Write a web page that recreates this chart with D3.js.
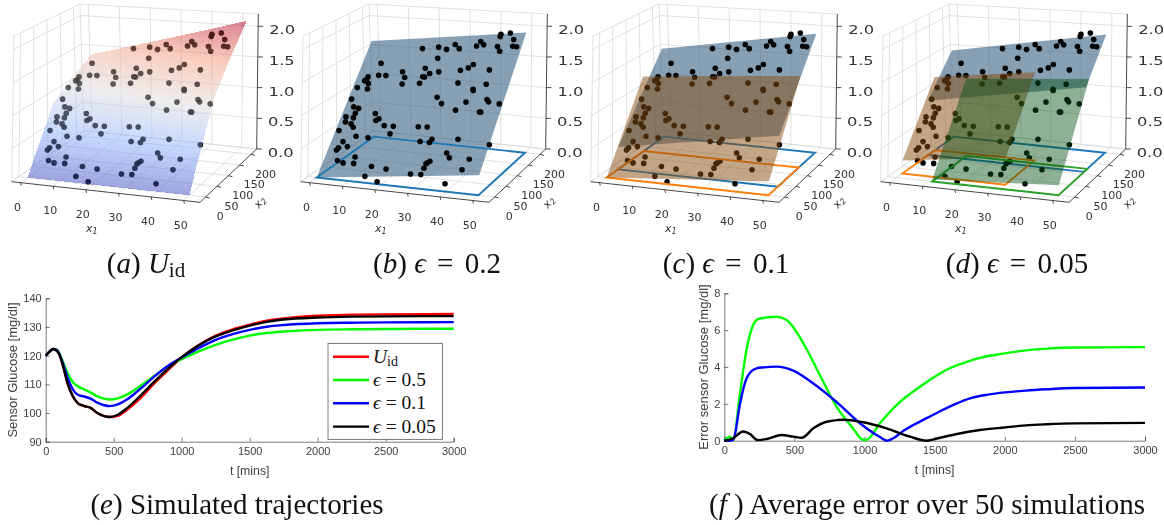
<!DOCTYPE html>
<html>
<head>
<meta charset="utf-8">
<title>Glucose regions</title>
<script src="https://cdn.jsdelivr.net/npm/d3@7"></script>
<style>
html, body { margin: 0; background: #fff; }
svg { display: block; filter: blur(0.4px); }
.cap { font-family: "Liberation Serif", serif; font-size: 29px; fill: #111; text-anchor: middle; }
.t3 { font-family: "DejaVu Sans"; font-size: 11px; fill: #333; }
.ax text { font-family: "Liberation Sans"; font-size: 11px; fill: #404040; }
.ax path, .ax line { stroke: #404040; stroke-width: 0.7; }
.lab { font-family: "Liberation Sans"; font-size: 12.3px; fill: #404040; }
</style>
</head>
<body>
<script>
// scattered samples, same in the four 3d panels
var pointsX1 = [42.7,42.6,45.7,47.5,47.9,49.3,42.6,43.9,36.5,37.9,35.6,28.0,29.9,25.5,22.5,17.1,23.6,36.4,35.1,32.6,42.4,25.5,22.6,20.4,21.3,20.7,20.5,4.5,13.1,14.6,14.6,7.9,5.4,1.8,1.6,1.2,2.9,3.5,-0.3,33.5,42.9,39.2,39.4,28.3,30.5,38.2,44.8,45.6,49.1,35.7,43.5,43.9,-0.2,1.9,3.6,3.4,3.5,0.8,1.5,3.8,5.0,0.9,10.1,11.9,11.3,14.6,17.6,17.4,25.6,28.4,7.1,11.2,3.9,5.8,3.4,2.9,27.8,31.2,30.7,39.3,49.4,36.9,38.2,44.4,9.4,4.3,6.2,9.5,15.2,19.9,43.1,32.5,31.9,31.6,31.3,27.8,31.0,14.2,18.5,39.0];
var pointsX2 = [188,186,188,178,168,166,174,166,184,178,178,188,180,184,190,192,172,154,150,150,142,152,152,162,148,148,138,182,162,152,142,160,162,164,160,158,152,142,148,128,122,116,114,110,100,100,100,96,94,90,86,86,126,110,108,98,90,94,84,78,72,68,94,86,82,74,72,62,70,70,58,54,48,42,38,36,50,54,50,54,50,40,34,34,28,24,22,22,20,18,22,30,28,26,22,14,14,8,2,8];
var pointsZ = [1.93,1.90,1.96,1.89,1.81,1.81,1.77,1.72,1.80,1.77,1.74,1.71,1.67,1.63,1.64,1.59,1.51,1.51,1.46,1.41,1.48,1.35,1.31,1.36,1.26,1.26,1.18,1.32,1.27,1.21,1.13,1.19,1.18,1.13,1.09,1.08,1.06,1.00,0.99,1.27,1.31,1.23,1.22,1.07,1.01,1.07,1.14,1.12,1.11,0.96,0.98,0.98,0.86,0.79,0.78,0.73,0.68,0.67,0.62,0.62,0.59,0.53,0.77,0.72,0.70,0.66,0.67,0.58,0.71,0.72,0.50,0.51,0.43,0.38,0.36,0.33,0.55,0.59,0.55,0.63,0.61,0.45,0.40,0.41,0.28,0.21,0.19,0.20,0.19,0.18,0.28,0.33,0.31,0.30,0.24,0.16,0.17,0.07,0.03,0.09];

// U_id surface: along x2, height and x1 extent at both side edges
var surfX2 = [0, 25, 50, 100, 150, 200];
var surfLeft = [0, 0.27, 0.5, 0.85, 1.1, 1.42];
var surfRight = [0, 0.33, 0.62, 1.2, 1.65, 2.15];
var surfX1Lo = [0, 0, 0, -1, 0, 3];
var surfX1Hi = [50, 50, 50, 50, 51, 53];

// flat regions: x1 range, x2 range, height at the (x1lo,x2lo) (x1hi,x2lo) (x1hi,x2hi) (x1lo,x2hi) corners
var regionB = [[0, 50], [0, 200], [0, 0.3, 1.95, 1.63]];
var regionC1 = [[0, 50], [40, 200], [0.35, 0.78, 1.93, 1.5]];
var regionC2 = [[0, 50], [0, 130], [0, 0.21, 1.45, 1.22]];
var regionD1 = [[0, 50], [110, 200], [0.88, 1.33, 1.92, 1.47]];
var regionD2 = [[0, 32], [20, 135], [0.2, 0.42, 1.42, 1.2]];
var regionD3 = [[11, 50], [0, 124], [0.03, 0.15, 1.42, 1.25]];

var x1Ticks = [0, 10, 20, 30, 40, 50];
var x2Ticks = [0, 50, 100, 150, 200];
var zTicks = [0, 0.5, 1, 1.5, 2];

// lower left panel
var tE = [0,30,55,80,100,130,160,200,240,280,330,380,430,470,530,600,700,800,900,1000,1100,1250,1375,1500,1625,1750,2000,2250,2500,3000];
var glucoseUid = [120,121.5,122.3,121.8,120.5,116,110.5,105.8,103.3,102.5,101.8,100,98.9,98.6,99,101.2,105.4,110.4,115,119.3,122.9,127,129.2,130.8,132.2,133,133.9,134.3,134.4,134.5];
var glucose05 = [120,121.5,122.3,122,120.8,117.5,114,110.7,109.2,108.3,107.2,105.8,105,104.7,105.1,106.5,109.6,113,116.3,118.8,121,123.8,125.6,127,127.9,128.4,129,129.2,129.3,129.4];
var glucose01 = [120,121.5,122.3,122,120.6,116.8,112.5,108.2,106.3,105.8,105,103.6,102.7,102.4,103,104.8,108.6,112.8,116.5,119.4,122,125.5,127.5,129,130.1,130.7,131.3,131.5,131.6,131.7];
var glucose005 = [120,121.5,122.3,121.8,120.5,116,110.5,105.8,103.3,102.5,101.8,100,98.9,98.6,99.4,101.8,106.2,111,115.5,119.5,122.8,126.7,128.8,130.5,131.8,132.6,133.3,133.6,133.7,133.8];

// lower right panel
var tF05 = [0,17,40,64,112,160,207,230,254,373,445,563,682,800,920,990,1015,1110,1230,1395,1500,1585,1700,1823,2000,2150,2300,2500,3000];
var err05 = [0,0.13,0.22,0.05,2.6,5,6.3,6.55,6.63,6.73,6.55,5.3,3.55,1.85,0.65,0.05,0.05,0.95,1.95,2.93,3.47,3.85,4.2,4.5,4.74,4.9,5,5.06,5.08];
var tF01 = [0,40,64,112,140,160,190,230,280,373,492,635,800,967,1110,1162,1205,1280,1348,1450,1538,1650,1752,1880,2000,2150,2300,2500,3000];
var err01 = [0,0,0.05,2,2.95,3.4,3.75,3.93,3.98,4.02,3.8,3.1,2.1,0.95,0.2,0,0.13,0.55,0.85,1.25,1.6,2,2.3,2.5,2.62,2.72,2.79,2.86,2.89];
var tF005 = [0,60,135,183,238,302,409,492,552,635,730,849,991,1157,1324,1443,1538,1650,1823,2000,2150,2300,2500,3000];
var err005 = [0,0.12,0.5,0.36,0.03,0.09,0.31,0.22,0.16,0.67,1.03,1.14,1,0.67,0.22,0,0.16,0.35,0.58,0.72,0.83,0.89,0.94,0.97];

var width = 1164, height = 525;
var svg = d3.select("body").append("svg").attr("width", width).attr("height", height);

// box corners on screen, floor then top, for panel a
var cFloor = [[11.7, 181.7], [200, 202.3], [256.7, 149], [84, 130.7]];
var cTop = [[14, 36], [206, 55.3], [258.3, 14], [80, 4]];
var sx = d3.scaleLinear().domain([-2.7, 55]).range([0, 1]);
var sy = d3.scaleLinear().domain([-25, 225]).range([0, 1]);
var sz = d3.scaleLinear().domain([0, 2.2]).range([0, 1]);

function mix(a, b, t) { return [a[0] + (b[0] - a[0]) * t, a[1] + (b[1] - a[1]) * t]; }
function corner(c, r, s) { return mix(mix(c[0], c[1], r), mix(c[3], c[2], r), s); }
function project(x1, x2, z) {
    var r = sx(x1), s = sy(x2), t = sz(z);
    return mix(corner(cFloor, r, s), corner(cTop, r, s), t);
}
function pathOf(pts) { return d3.line()(pts) + "Z"; }

var cool = d3.scaleLinear().domain([0, 0.54, 1.08, 1.62, 2.15])
    .range(["#3b4cc0", "#8db0fe", "#dddcdc", "#f49a7b", "#b40426"]);

var atX2 = d3.scaleLinear().domain(surfX2);
// u runs 0..1 across the surface, x2 along it
function surfZ(u, x2) {
    var left = atX2.range(surfLeft)(x2), right = atX2.range(surfRight)(x2);
    return left + (right - left) * u;
}
function surfPoint(u, x2) {
    var lo = atX2.range(surfX1Lo)(x2), hi = atX2.range(surfX1Hi)(x2);
    return project(lo + (hi - lo) * u, x2, surfZ(u, x2));
}

function drawBox(g) {
    var grid = g.append("g").attr("fill", "none").attr("stroke", "#d9d9d9").attr("stroke-width", 0.8);
    var x1a = sx.domain()[0], x1b = sx.domain()[1], x2a = sy.domain()[0], x2b = sy.domain()[1], zb = sz.domain()[1];
    function seg(p, q) { grid.append("path").attr("d", d3.line()([project(p[0], p[1], p[2]), project(q[0], q[1], q[2])])); }
    seg([x1a, x2a, 0], [x1a, x2b, 0]);
    seg([x1a, x2b, 0], [x1b, x2b, 0]);
    seg([x1a, x2b, 0], [x1a, x2b, zb]);
    seg([x1a, x2b, zb], [x1b, x2b, zb]);
    seg([x1a, x2a, 0], [x1a, x2a, zb]);
    seg([x1a, x2a, zb], [x1a, x2b, zb]);
    x1Ticks.forEach(function (v) {
        seg([v, x2a, 0], [v, x2b, 0]);
        seg([v, x2b, 0], [v, x2b, zb]);
    });
    x2Ticks.forEach(function (v) {
        seg([x1a, v, 0], [x1b, v, 0]);
        seg([x1a, v, 0], [x1a, v, zb]);
    });
    zTicks.forEach(function (v) {
        seg([x1a, x2a, v], [x1a, x2b, v]);
        seg([x1a, x2b, v], [x1b, x2b, v]);
    });

    var ax = g.append("g").attr("fill", "none").attr("stroke", "#333").attr("stroke-width", 0.9);
    ax.append("path").attr("d", d3.line()([project(x1a, x2a, 0), project(x1b, x2a, 0), project(x1b, x2b, 0)]));
    ax.append("path").attr("d", d3.line()([project(x1b, x2b, 0), project(x1b, x2b, zb)]));

    x1Ticks.forEach(function (v) {
        var p = project(v, x2a, 0);
        ax.append("line").attr("x1", p[0]).attr("y1", p[1]).attr("x2", p[0] + 0.8).attr("y2", p[1] + 3);
        g.append("text").attr("class", "t3").attr("text-anchor", "middle")
            .attr("x", p[0] - 3).attr("y", p[1] + 28).text(v);
    });
    x2Ticks.forEach(function (v) {
        var p = project(x1b, v, 0);
        ax.append("line").attr("x1", p[0]).attr("y1", p[1]).attr("x2", p[0] + 4).attr("y2", p[1] + 1);
        g.append("text").attr("class", "t3").attr("text-anchor", "middle")
            .attr("x", p[0] + 14.5).attr("y", p[1] + 23.5).text(v);
    });
    zTicks.forEach(function (v) {
        var p = project(x1b, x2b, v);
        ax.append("line").attr("x1", p[0]).attr("y1", p[1]).attr("x2", p[0] + 5).attr("y2", p[1]);
        g.append("text").attr("class", "t3").attr("x", p[0] + 11).attr("y", p[1] + 8).style("font-size", "12.5px")
            .attr("textLength", 26).attr("lengthAdjust", "spacingAndGlyphs").text(d3.format(".1f")(v));
    });
    g.append("text").attr("class", "t3").attr("x", 86).attr("y", 232).attr("font-style", "italic").style("font-size", "11px")
        .text("x").append("tspan").attr("dy", 2).style("font-size", "8px").text("1");
    g.append("text").attr("class", "t3").attr("transform", "translate(259,209) rotate(-52)").attr("font-style", "italic").style("font-size", "11px")
        .text("x").append("tspan").attr("dy", 2).style("font-size", "8px").text("2");
}

function drawPoints(g, op) {
    g.append("g").selectAll("circle").data(pointsX1).join("circle")
        .attr("cx", function (d, i) { return project(d, pointsX2[i], pointsZ[i])[0]; })
        .attr("cy", function (d, i) { return project(d, pointsX2[i], pointsZ[i])[1]; })
        .attr("r", 2.8)
        .attr("fill", "#050505")
        .attr("fill-opacity", op);
}

function drawPlane(g, reg, color, op) {
    var x = reg[0], y = reg[1], z = reg[2];
    g.append("path")
        .attr("d", pathOf([project(x[0], y[0], z[0]), project(x[1], y[0], z[1]), project(x[1], y[1], z[2]), project(x[0], y[1], z[3])]))
        .attr("fill", color).attr("fill-opacity", op);
}

function drawRect(g, reg, color) {
    var x = reg[0], y = reg[1];
    g.append("path")
        .attr("d", pathOf([project(x[0], y[0], 0), project(x[1], y[0], 0), project(x[1], y[1], 0), project(x[0], y[1], 0)]))
        .attr("fill", "none").attr("stroke", color).attr("stroke-width", 1.9);
}

var BLUE = "#1f77b4", ORANGE = "#ff7f0e", GREEN = "#2ca02c";
var fillBlue = "rgb(55,97,130)", fillOrange = "rgb(135,75,15)", fillGreen = "rgb(5,80,18)";

// panel a
var pa = svg.append("g");
drawBox(pa);
drawPoints(pa, 1);
var surfG = pa.append("g").attr("shape-rendering", "crispEdges");
d3.range(0, 200, 4).forEach(function (y) {
    d3.range(0, 1, 0.02).forEach(function (u) {
        var u2 = u + 0.02, y2 = y + 4;
        surfG.append("path")
            .attr("d", pathOf([surfPoint(u, y), surfPoint(u2, y), surfPoint(u2, y2), surfPoint(u, y2)]))
            .attr("fill", cool(surfZ(u + 0.01, y + 2))).attr("fill-opacity", 0.5);
    });
});
drawPoints(pa, 0.2);

// panel b
var pb = svg.append("g").attr("transform", "translate(289,0)");
drawBox(pb);
drawPlane(pb, regionB, fillBlue, 0.6);
drawRect(pb, regionB, BLUE);
drawPoints(pb, 1);

// panel c
var pc = svg.append("g").attr("transform", "translate(579,0)");
drawBox(pc);
drawPlane(pc, regionC1, fillBlue, 0.6);
drawRect(pc, regionC1, BLUE);
drawPoints(pc, 1);
drawRect(pc, regionC2, ORANGE);
drawPlane(pc, regionC2, fillOrange, 0.5);

// panel d
var pd = svg.append("g").attr("transform", "translate(869,0)");
drawBox(pd);
drawPlane(pd, regionD1, fillBlue, 0.6);
drawRect(pd, regionD1, BLUE);
drawPoints(pd, 1);
drawRect(pd, regionD2, ORANGE);
drawPlane(pd, regionD2, fillOrange, 0.5);
drawRect(pd, regionD3, GREEN);
drawPlane(pd, regionD3, fillGreen, 0.45);

// captions
function caption(x, y, parts) {
    var t = svg.append("text").attr("class", "cap").attr("x", x).attr("y", y);
    parts.forEach(function (p) {
        var s = t.append("tspan").text(p[0]);
        if (p[1] == "i") s.attr("font-style", "italic");
        if (p[1] == "sub") s.attr("dy", 4).style("font-size", "21px");
        if (p[1] == "gap") s.attr("dx", 4);
    });
}
caption(146, 273, [["(", ""], ["a", "i"], [") ", ""], ["U", "i"], ["id", "sub"]]);
caption(437, 273, [["(", ""], ["b", "i"], [") ", ""], ["\u03f5", "i"], [" =", "gap"], [" 0.2", "gap"]]);
caption(726, 273, [["(", ""], ["c", "i"], [") ", ""], ["\u03f5", "i"], [" =", "gap"], [" 0.1", "gap"]]);
caption(1017, 273, [["(", ""], ["d", "i"], [") ", ""], ["\u03f5", "i"], [" =", "gap"], [" 0.05", "gap"]]);
caption(237, 514, [["(", ""], ["e", "i"], [") Simulated trajectories", ""]]);
caption(927, 514, [["(", ""], ["f", "i"], [" ) Average error over 50 simulations", ""]]);

// 2d panels
function plot2d(x0, x1, y0, y1, yDomain, yTicks, yLabel, yLabelX, yLabelY) {
    var x = d3.scaleLinear().domain([0, 3000]).range([x0, x1]);
    var y = d3.scaleLinear().domain(yDomain).range([y0, y1]);
    svg.append("g").attr("class", "ax").attr("transform", "translate(0," + y0 + ")")
        .call(d3.axisBottom(x).tickValues([0, 500, 1000, 1500, 2000, 2500, 3000]).tickFormat(d3.format("d")).tickSize(-4).tickPadding(6));
    svg.append("g").attr("class", "ax").attr("transform", "translate(" + x0 + ",0)")
        .call(d3.axisLeft(y).tickValues(yTicks).tickFormat(d3.format("d")).tickSize(-4).tickPadding(4));
    svg.append("text").attr("class", "lab").attr("text-anchor", "middle").attr("x", (x0 + x1) / 2).attr("y", y0 + 33).text("t [mins]");
    svg.append("text").attr("class", "lab").attr("text-anchor", "middle").style("font-size", "13px")
        .attr("transform", "translate(" + yLabelX + "," + yLabelY + ") rotate(-90)").text(yLabel);
    return { x: x, y: y };
}
function curveLine(s, ts, vs, color) {
    var line = d3.line().x(function (d, i) { return s.x(ts[i]); }).y(function (d) { return s.y(d); }).curve(d3.curveMonotoneX);
    svg.append("path").attr("d", line(vs)).attr("fill", "none").attr("stroke", color).attr("stroke-width", 2.4);
}

var e = plot2d(45.7, 453.7, 441.7, 298.3, [90, 140], [90, 100, 110, 120, 130, 140], "Sensor Glucose [mg/dl]", 17, 370);
curveLine(e, tE, glucoseUid, "#ff0000");
curveLine(e, tE, glucose05, "#00ff00");
curveLine(e, tE, glucose01, "#0000ff");
curveLine(e, tE, glucose005, "#000000");

var f = plot2d(724.3, 1145, 440.7, 293.3, [0, 8], [0, 2, 4, 6, 8], "Error sensor Glucose [mg/dl]", 707.5, 367);
curveLine(f, tF05, err05, "#00ff00");
curveLine(f, tF01, err01, "#0000ff");
curveLine(f, tF005, err005, "#000000");

// legend of panel e
var legendNames = [["U", "id"], ["\u03f5", " = 0.5"], ["\u03f5", " = 0.1"], ["\u03f5", " = 0.05"]];
var legendColors = ["#ff0000", "#00ff00", "#0000ff", "#000000"];
var lg = svg.append("g");
lg.append("rect").attr("x", 328).attr("y", 343.3).attr("width", 114.3).attr("height", 96)
    .attr("fill", "#fff").attr("stroke", "#404040").attr("stroke-width", 0.7);
legendNames.forEach(function (n, i) {
    var yy = 356.7 + i * 23.3;
    lg.append("line").attr("x1", 333).attr("x2", 369).attr("y1", yy).attr("y2", yy)
        .attr("stroke", legendColors[i]).attr("stroke-width", 2.4);
    var t = lg.append("text").attr("x", 373).attr("y", yy + 6).style("font-family", "Liberation Serif").style("font-size", "19.5px").attr("fill", "#111");
    t.append("tspan").attr("font-style", "italic").text(n[0]);
    var s = t.append("tspan").text(n[1]);
    if (i == 0) s.attr("dy", 3).style("font-size", "14px");
});
</script>
</body>
</html>
